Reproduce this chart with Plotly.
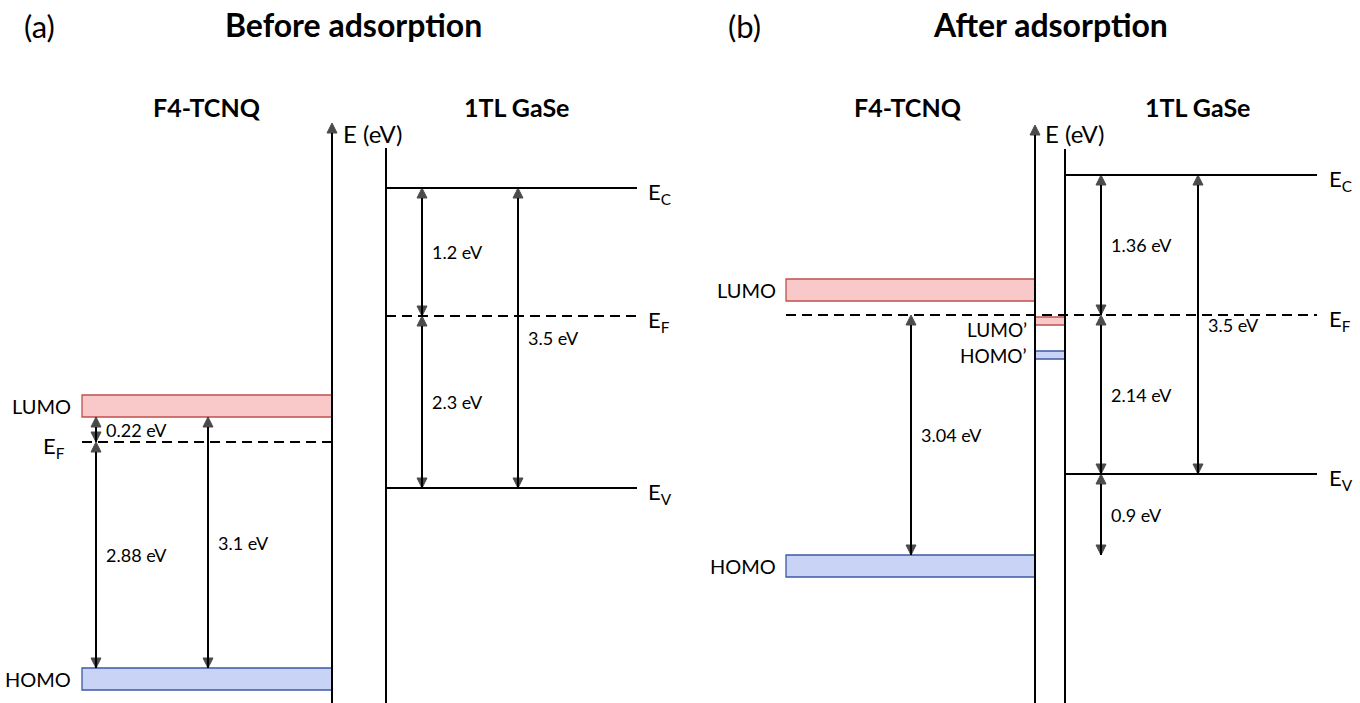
import plotly.graph_objects as go

W, H = 1360, 703
FONT = "Lato"

# ---------------- data (level heights, diagram units, up = higher energy) ----------------
# Panel (a): before adsorption
a_mol_lumo = [286, 308]      # bottom, top of LUMO band
a_mol_homo = [13, 35]        # bottom, top of HOMO band
a_mol_ef = 261
a_gase_ec = 515
a_gase_ef = 387
a_gase_ev = 215

# Panel (b): after adsorption
b_mol_lumo = [402, 424]
b_mol_homo = [126, 148]
b_hyb_lumo = [378, 386]      # LUMO'
b_hyb_homo = [344, 352]      # HOMO'
b_ef = 388
b_gase_ec = 528
b_gase_ev = 229
b_ev_tail = 148              # lower end of the 0.9 eV arrow

# energy gaps: label, lower level, upper level, arrow column
gap_labels = ["0.22 eV", "2.88 eV", "3.1 eV", "1.2 eV", "2.3 eV", "3.5 eV",
              "3.04 eV", "1.36 eV", "2.14 eV", "0.9 eV", "3.5 eV"]
gap_lower = [a_mol_ef, a_mol_homo[1], a_mol_homo[1], a_gase_ef, a_gase_ev, a_gase_ev,
             b_mol_homo[1], b_ef, b_gase_ev, b_ev_tail, b_gase_ev]
gap_upper = [a_mol_lumo[0], a_mol_ef, a_mol_lumo[0], a_gase_ec, a_gase_ef, a_gase_ec,
             b_ef, b_gase_ec, b_ef, b_gase_ev, b_gase_ec]
gap_column = ["a1", "a1", "a2", "a3", "a3", "a4", "b1", "b3", "b3", "b3", "b4"]

panel_tags = ["(a)", "(b)"]
panel_titles = ["Before adsorption", "After adsorption"]
material_names = ["F4-TCNQ", "1TL GaSe"]

# ---------------- layout geometry (x positions in px) ----------------
X = {
    "a_mol0": 82, "a_mol1": 332, "a_axis": 332, "a_gase": 386, "a_gase1": 637,
    "b_mol0": 786, "b_mol1": 1035, "b_axis": 1035, "b_gase": 1065, "b_gase1": 1317,
}
arrow_x = {"a1": 96, "a2": 208, "a3": 422, "a4": 518,
           "b1": 911, "b3": 1101, "b4": 1198}

RED_FILL, RED_LINE = "#f9c8c8", "#c0504d"
BLUE_FILL, BLUE_LINE = "#c9d3f6", "#3e58a8"
DASH = "10px,6px"

fig = go.Figure()
shapes = []
ann = []


def band(x0, x1, lohi, fill, edge):
    shapes.append(dict(type="rect", xref="x", yref="y", x0=x0, x1=x1,
                       y0=lohi[0], y1=lohi[1], fillcolor=fill,
                       line=dict(color=edge, width=1.3), layer="below"))


def hline(x0, x1, y, dash=None):
    shapes.append(dict(type="line", xref="x", yref="y", x0=x0, x1=x1, y0=y, y1=y,
                       line=dict(color="black", width=2,
                                 dash=dash if dash else "solid")))


def vline(x, y0, y1):
    shapes.append(dict(type="line", xref="x", yref="y", x0=x, x1=x, y0=y0, y1=y1,
                       line=dict(color="black", width=2)))


def text(x, y, s, size, anchor="center", bold=False):
    ann.append(dict(x=x, y=y, xref="x", yref="y", text=(f"<b>{s}</b>" if bold else s),
                    showarrow=False, xanchor=anchor, yanchor="middle",
                    font=dict(family=FONT, size=size, color="black")))


def arrow(x, y_lo, y_hi, both=True):
    symbols = ["arrow-down" if both else "line-ew", "arrow-up"]
    sizes = [10 if both else 0, 10]
    fig.add_trace(go.Scatter(
        x=[x, x], y=[y_lo, y_hi], mode="lines+markers",
        line=dict(color="black", width=2),
        marker=dict(symbol=symbols, size=sizes, color="black",
                    line=dict(width=1, color="black")),
        hoverinfo="skip", showlegend=False, cliponaxis=False))


# ---------- panel (a) ----------
band(X["a_mol0"], X["a_mol1"], a_mol_lumo, RED_FILL, RED_LINE)
band(X["a_mol0"], X["a_mol1"], a_mol_homo, BLUE_FILL, BLUE_LINE)
hline(X["a_mol0"], X["a_mol1"], a_mol_ef, DASH)
vline(X["a_gase"], 0, 555)
hline(X["a_gase"], X["a_gase1"], a_gase_ec)
hline(X["a_gase"], X["a_gase1"], a_gase_ef, DASH)
hline(X["a_gase"], X["a_gase1"], a_gase_ev)
arrow(X["a_axis"], 0, 580, both=False)

# ---------- panel (b) ----------
band(X["b_mol0"], X["b_mol1"], b_mol_lumo, RED_FILL, RED_LINE)
band(X["b_mol0"], X["b_mol1"], b_mol_homo, BLUE_FILL, BLUE_LINE)
band(X["b_axis"], X["b_gase"], b_hyb_lumo, RED_FILL, RED_LINE)
band(X["b_axis"], X["b_gase"], b_hyb_homo, BLUE_FILL, BLUE_LINE)
hline(X["b_mol0"], X["b_gase1"], b_ef, DASH)
vline(X["b_gase"], 0, 554)
hline(X["b_gase"], X["b_gase1"], b_gase_ec)
hline(X["b_gase"], X["b_gase1"], b_gase_ev)
arrow(X["b_axis"], 0, 578, both=False)

# gap arrows + labels
for lab, lo, hi, col in zip(gap_labels, gap_lower, gap_upper, gap_column):
    xa = arrow_x[col]
    arrow(xa, lo, hi)
    text(xa + 8, (lo + hi) / 2, lab, 18, anchor="left")

# headers
text(39, 677, panel_tags[0], 31)
text(744, 677, panel_tags[1], 31)
text(353, 679, panel_titles[0], 32, bold=True)
text(1050, 679, panel_titles[1], 32, bold=True)
text(207, 596, material_names[0], 25, bold=True)
text(516, 596, material_names[1], 25, bold=True)
text(908, 596, material_names[0], 25, bold=True)
text(1197, 596, material_names[1], 25, bold=True)
text(341, 570, "E (eV)", 24, anchor="left")
text(1043, 570, "E (eV)", 24, anchor="left")

# level labels, panel (a)
text(73, a_mol_lumo[0] + 11, "LUMO", 20, anchor="right")
text(73, a_mol_homo[0] + 11, "HOMO", 20, anchor="right")
text(67, a_mol_ef - 5, "E<sub>F</sub>", 22, anchor="right")
text(646, a_gase_ec - 5, "E<sub>C</sub>", 22, anchor="left")
text(646, a_gase_ef - 5, "E<sub>F</sub>", 22, anchor="left")
text(646, a_gase_ev - 5, "E<sub>V</sub>", 22, anchor="left")

# level labels, panel (b)
text(778, b_mol_lumo[0] + 11, "LUMO", 20, anchor="right")
text(778, b_mol_homo[0] + 11, "HOMO", 20, anchor="right")
text(1029, b_hyb_lumo[0] - 4, "LUMO’", 19, anchor="right")
text(1029, b_hyb_homo[0] + 4, "HOMO’", 19, anchor="right")
text(1327, b_gase_ec - 5, "E<sub>C</sub>", 22, anchor="left")
text(1327, b_ef - 5, "E<sub>F</sub>", 22, anchor="left")
text(1327, b_gase_ev - 5, "E<sub>V</sub>", 22, anchor="left")

fig.update_layout(
    width=W, height=H, margin=dict(l=0, r=0, t=0, b=0),
    paper_bgcolor="white", plot_bgcolor="white",
    xaxis=dict(range=[0, W], visible=False, fixedrange=True),
    yaxis=dict(range=[0, H], visible=False, fixedrange=True),
    shapes=shapes, annotations=ann, showlegend=False,
)
fig.write_html("out.html")
